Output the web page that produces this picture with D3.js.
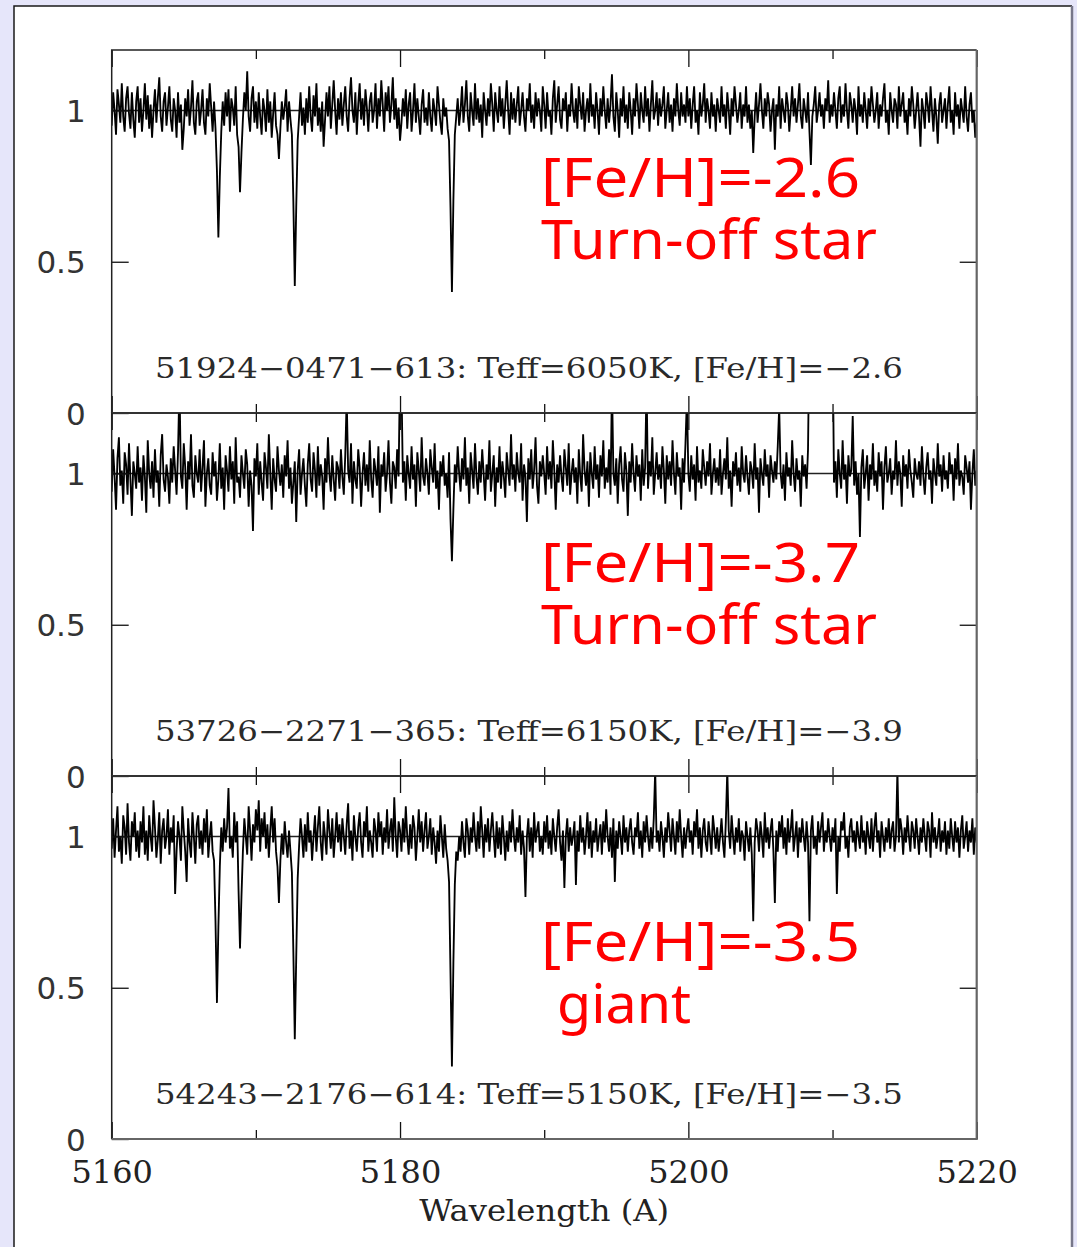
<!DOCTYPE html>
<html>
<head>
<meta charset="utf-8">
<script src="https://cdn.jsdelivr.net/npm/d3@7"></script>
<style>
	body{margin:0;background:#e6e6fa;}
	svg{display:block;}
</style>
</head>
<body>
<div id="spectraGraph_div"></div>
<script>

////////////////////////////////////////
// data : normalized flux in percent of continuum, 0.1 A steps from 5160 A
////////////////////////////////////////

var waveStart = 5160;
var waveStep = 0.1;

var flux1 = [
95,106,100,92,107,102,96,109,98,93,104,108,99,94,106,97,91,103,108,96,
104,93,100,109,97,105,94,102,91,100,107,96,104,111,98,93,103,106,95,101,
108,97,93,104,100,91,106,96,102,87,94,104,98,107,95,101,110,96,92,103,
106,95,100,107,96,92,104,98,109,101,93,103,94,80,58,78,93,103,95,106,
98,107,93,104,101,95,108,92,88,73,86,97,106,100,113,98,93,104,108,96,
103,94,106,98,92,104,100,93,107,96,103,91,99,106,95,92,84,94,103,97,
101,107,93,103,97,92,70,42,68,90,98,106,95,101,92,104,96,108,98,93,
105,98,109,95,101,93,103,88,97,106,98,108,94,102,110,100,92,104,97,106,
95,102,108,98,93,104,111,100,96,106,92,102,109,97,104,95,107,101,93,103,
106,96,100,109,94,104,98,110,102,93,106,100,108,96,102,111,97,104,94,101,
90,96,104,98,107,94,102,106,93,100,109,96,104,98,92,102,107,96,101,95,
106,98,93,104,100,95,108,102,96,92,104,98,101,94,90,68,40,70,92,98,
104,95,100,108,96,102,110,98,93,106,100,95,109,97,104,96,102,91,106,100,
95,104,98,109,102,93,106,100,96,108,98,104,94,102,110,100,92,106,97,104,
96,102,108,95,100,106,98,93,104,100,109,96,102,94,106,98,104,100,93,108,
102,94,106,98,100,92,104,110,96,102,108,97,94,104,100,106,93,102,98,109,
100,96,104,94,108,102,97,106,93,100,104,96,109,98,102,94,106,100,92,104,
98,108,100,94,104,96,102,112,98,93,106,100,91,104,98,108,96,102,94,106,
100,92,104,98,109,102,94,106,100,96,108,98,104,93,102,110,97,100,106,95,
104,98,102,108,94,100,106,96,102,93,104,98,109,100,95,106,98,102,96,108,
98,104,94,102,108,96,100,92,106,98,102,109,96,104,100,94,106,98,102,93,
104,100,96,108,98,102,94,106,100,92,104,98,108,102,96,100,106,94,102,98,
108,96,102,94,100,86,98,106,96,102,109,100,94,104,98,106,102,93,100,104,
87,102,98,108,94,104,100,96,106,102,93,100,108,98,104,96,102,109,98,94,
104,100,96,106,93,82,98,102,108,96,100,106,98,102,94,104,100,110,96,102,
98,106,100,94,104,108,96,102,98,109,100,94,106,102,96,104,100,92,108,98,
102,96,106,100,94,104,98,108,102,96,100,106,94,102,98,104,109,96,100,92,
106,100,96,104,102,94,108,98,102,106,96,100,92,104,98,108,102,94,100,106,
98,88,104,100,94,106,102,96,108,100,93,104,98,89,102,106,96,100,104,94,
102,108,96,100,92,106,98,102,94,104,100,96,108,98,93,102,106,96,100,91,
96];

var flux2 = [
94,108,99,88,105,112,96,101,90,107,103,93,110,98,86,104,100,95,109,97,
102,91,106,99,87,111,100,95,104,92,108,97,101,89,106,113,98,94,103,99,
90,105,97,109,101,93,107,130,99,95,110,102,88,104,98,113,96,92,106,100,
97,108,94,102,111,89,100,105,96,93,107,99,104,91,98,110,95,102,88,106,
101,94,109,98,104,90,112,97,99,92,106,100,95,108,103,89,101,96,81,105,
99,110,93,104,97,91,107,102,95,113,100,88,105,98,94,109,101,96,103,92,
106,99,111,95,102,90,97,104,84,101,108,93,100,105,96,89,103,110,98,94,
107,101,92,109,96,103,99,88,105,97,112,100,94,106,98,91,104,102,95,108,
99,93,106,125,101,97,110,90,104,98,95,108,102,89,100,107,96,103,94,111,
98,92,105,101,96,109,87,103,99,107,94,100,111,97,90,104,102,95,108,99,
135,130,97,104,91,106,100,95,109,98,103,89,107,101,94,112,99,96,105,100,
93,108,102,97,110,95,101,88,104,99,106,96,100,92,107,85,71,88,103,97,
109,100,94,105,98,112,96,102,90,107,101,95,110,99,93,104,97,108,100,91,
103,98,111,94,100,106,89,102,97,109,95,104,99,92,107,101,96,113,98,103,
94,107,100,97,110,91,103,99,84,105,98,108,95,101,112,96,90,104,99,106,
100,93,109,98,104,95,111,101,88,103,97,106,99,94,108,102,96,110,93,100,
105,97,102,90,108,99,94,113,101,96,104,89,107,100,95,109,98,103,92,106,
99,111,95,102,97,108,93,130,100,96,105,90,103,109,98,94,107,101,86,104,
97,110,100,94,106,99,103,91,108,96,102,130,95,104,99,112,93,100,107,98,
103,95,109,101,90,106,98,104,96,111,100,93,107,99,102,88,105,97,110,125,
100,94,106,98,103,91,109,97,101,95,108,102,96,104,99,110,93,100,105,97,
102,96,108,93,100,105,98,112,95,101,89,104,99,107,96,102,94,109,100,97,
106,99,93,104,101,95,110,98,102,87,105,100,96,108,99,103,92,106,101,97,
104,98,109,122,100,95,103,91,107,99,102,96,111,100,94,105,98,101,89,106,
99,103,95,108,150,150,150,150,150,150,150,150,150,150,150,150,150,150,150,150,
150,97,104,92,108,100,95,111,98,103,90,106,99,101,119,96,104,93,100,79,
102,108,95,100,106,91,103,98,110,96,101,94,107,99,104,88,102,109,97,100,
105,93,101,98,111,96,104,100,89,106,99,103,95,108,101,97,92,105,100,98,
104,96,109,99,93,102,107,98,101,90,105,100,96,110,99,103,94,106,98,101,
95,107,100,103,91,105,98,110,96,101,99,93,106,102,97,104,88,100,108,96,
101];

var flux3 = [
96,106,93,102,110,95,100,91,107,103,94,111,98,92,105,100,108,95,102,93,
105,98,110,94,102,92,107,100,95,112,103,93,99,108,91,102,106,96,100,109,
94,103,98,107,81,95,105,100,92,110,102,95,85,106,98,93,108,100,91,104,
107,96,102,94,106,98,109,93,100,105,95,92,72,45,70,90,103,95,106,98,
103,116,96,100,93,108,98,105,82,63,80,95,106,100,94,110,102,92,104,98,
109,102,112,95,106,100,108,96,104,93,102,110,98,106,95,90,78,92,101,94,
105,98,93,102,95,88,62,33,60,86,97,106,100,93,104,95,108,98,102,92,
100,107,95,103,110,98,92,105,100,94,109,102,96,106,93,100,108,98,104,95,
106,100,94,104,111,96,102,92,107,100,95,103,108,98,93,105,100,110,95,102,
98,93,106,102,95,108,100,105,94,103,98,109,96,102,106,95,113,100,93,105,
102,95,106,98,110,100,94,104,96,107,103,92,100,109,98,105,95,102,108,96,
100,106,94,103,98,91,102,95,107,100,93,104,96,92,85,55,24,58,84,95,
92,100,95,105,98,93,106,102,94,103,98,108,100,95,105,96,110,102,93,104,
98,106,95,102,108,100,93,105,96,103,94,107,100,92,102,95,105,98,109,100,
95,103,98,107,94,102,96,80,100,106,95,103,93,108,98,102,105,95,100,94,
105,98,107,96,102,94,106,100,95,103,109,98,92,102,83,100,106,95,103,97,
100,105,84,102,95,107,98,103,94,100,108,96,105,93,102,98,106,95,100,104,
94,105,98,109,100,95,103,93,106,85,102,96,105,100,94,107,98,103,95,102,
106,98,94,103,100,108,96,102,93,105,98,107,100,95,103,96,106,122,98,102,
95,105,100,93,103,98,108,102,95,106,100,94,105,98,109,100,93,103,96,102,
106,98,102,94,105,100,109,96,103,93,102,106,98,95,105,100,94,107,102,96,
103,95,100,106,98,93,105,122,102,96,107,100,94,103,98,106,95,102,100,92,
105,100,95,103,94,72,98,106,102,95,105,100,93,108,98,103,96,102,106,95,
78,102,95,105,100,107,96,103,94,106,98,102,109,95,100,105,93,103,98,106,
100,95,105,98,72,102,107,96,100,94,105,98,103,108,95,102,98,106,100,95,
103,98,106,81,100,95,105,102,108,96,100,93,103,106,98,102,95,105,100,96,
107,98,102,94,105,100,96,106,95,103,108,98,102,93,105,100,95,103,98,106,
96,102,105,95,100,122,98,106,102,94,103,98,107,100,95,105,102,96,106,100,
94,103,98,106,100,95,105,102,93,108,98,103,96,100,106,95,102,98,105,94,
102,96,106,100,95,105,98,103,93,102,107,96,100,105,95,102,98,106,94,103,
98];

var starIds = ['51924\u22120471\u2212613','53726\u22122271\u2212365','54243\u22122176\u2212614'];
var teffs = [6050,6150,5150];
var fehFits = ['\u22122.6','\u22123.9','\u22123.5'];
var fehNotes = ['[Fe/H]=-2.6','[Fe/H]=-3.7','[Fe/H]=-3.5'];
var typeNotes = ['Turn-off star','Turn-off star','giant'];

var xMajorTicks = [5160,5180,5200,5220];
var xMinorTicks = [5170,5190,5210];
var yTicks = [0,0.5,1];

////////////////////////////////////////
// layout
////////////////////////////////////////

var spectra_w = 1077;
var spectra_h = 1247;
var spectra_left = 111.7;
var spectra_right = 976.7;
var spectra_top = 50;
var panel_h = 363;
var fluxMax = 1.2;

var panels = [flux1,flux2,flux3];

var spectraSVG = d3.select('#spectraGraph_div').append('svg')
	.attr('width',spectra_w)
	.attr('height',spectra_h);

spectraSVG.append('rect')
	.attr('x',14).attr('y',6)
	.attr('width',1058).attr('height',1300)
	.attr('fill','white');
spectraSVG.append('path')
	.attr('d','M14,1247V6H1072')
	.attr('fill','none').attr('stroke','#1a1a1a').attr('stroke-width',1.5);
spectraSVG.append('line')
	.attr('x1',1072).attr('y1',6).attr('x2',1072).attr('y2',1247)
	.attr('stroke','#77778a').attr('stroke-width',2.5);

var x = d3.scaleLinear()
	.domain([waveStart,5220])
	.range([spectra_left,spectra_right]);

var spectraLine = d3.line()
	.x(function(d,i){ return x(waveStart+i*waveStep); });

////////////////////////////////////////
// panels
////////////////////////////////////////

panels.forEach(function(flux,p){
	var top = spectra_top+p*panel_h;
	var bottom = top+panel_h;

	var y = d3.scaleLinear()
		.domain([0,fluxMax])
		.range([bottom,top]);

	var g = spectraSVG.append('g').attr('id','panel'+p);

	g.append('clipPath')
		.attr('id','clip'+p)
		.append('rect')
		.attr('x',spectra_left)
		.attr('y',top)
		.attr('width',spectra_right-spectra_left)
		.attr('height',panel_h);

	// continuum level
	g.append('line')
		.attr('x1',spectra_left).attr('x2',spectra_right)
		.attr('y1',y(1)).attr('y2',y(1))
		.attr('stroke','#222')
		.attr('stroke-width',1.3);

	g.append('path')
		.datum(flux)
		.attr('clip-path','url(#clip'+p+')')
		.attr('fill','none')
		.attr('stroke','#000')
		.attr('stroke-width',1.85)
		.attr('stroke-linejoin','miter')
		.attr('d',spectraLine.y(function(d){ return y(d/100); }));

	// ticks pointing inward
	var axTopMajor = g.append('g')
		.attr('transform','translate(0,'+top+')')
		.call(d3.axisTop(x).tickValues(xMajorTicks).tickSize(-17).tickFormat(''));
	var axTopMinor = g.append('g')
		.attr('transform','translate(0,'+top+')')
		.call(d3.axisTop(x).tickValues(xMinorTicks).tickSize(-9).tickFormat(''));
	var axBotMajor = g.append('g')
		.attr('transform','translate(0,'+bottom+')')
		.call(d3.axisBottom(x).tickValues(xMajorTicks).tickSize(-17).tickPadding(21)
			.tickFormat(p==2 ? d3.format('d') : ''));
	var axBotMinor = g.append('g')
		.attr('transform','translate(0,'+bottom+')')
		.call(d3.axisBottom(x).tickValues(xMinorTicks).tickSize(-9).tickFormat(''));
	var axLeft = g.append('g')
		.attr('transform','translate('+spectra_left+',0)')
		.call(d3.axisLeft(y).tickValues(yTicks).tickSize(-17).tickPadding(26)
			.tickFormat(function(d){ return d; }));
	var axRight = g.append('g')
		.attr('transform','translate('+spectra_right+',0)')
		.call(d3.axisRight(y).tickValues([0.5]).tickSize(-17).tickFormat(''));

	[axTopMajor,axTopMinor,axBotMajor,axBotMinor,axLeft,axRight].forEach(function(a){
		a.select('.domain').remove();
		a.selectAll('.tick line').attr('stroke','#111').attr('stroke-width',1.3);
	});

	axLeft.selectAll('text')
		.attr('font-family','DejaVu Sans')
		.attr('font-size',31)
		.attr('fill','#333')
		.attr('dy','0.36em');

	axBotMajor.selectAll('text')
		.attr('font-family','DejaVu Serif')
		.attr('font-size',32)
		.attr('fill','#222');

	// frame: left/top dark, right/bottom grey
	g.append('path')
		.attr('d','M'+spectra_left+','+bottom+'V'+top+'H'+spectra_right)
		.attr('fill','none').attr('stroke','#222').attr('stroke-width',1.5);
	g.append('path')
		.attr('d','M'+spectra_left+','+bottom+'H'+spectra_right+'V'+top)
		.attr('fill','none').attr('stroke','#666').attr('stroke-width',2.2);

	// catalogue line
	g.append('text')
		.attr('x',x(5163))
		.attr('y',bottom-35)
		.attr('font-family','DejaVu Serif')
		.attr('font-size',28)
		.attr('fill','#2a2a2a')
		.attr('textLength',748)
		.attr('lengthAdjust','spacingAndGlyphs')
		.text(starIds[p]+': Teff='+teffs[p]+'K, [Fe/H]='+fehFits[p]);

	// red notes
	var noteY = [0.714,0.641,0.59][p];
	g.append('text')
		.attr('x',541)
		.attr('y',y(noteY))
		.attr('font-family','Noto Sans')
		.attr('font-size',55)
		.attr('fill','#ff0000')
		.attr('textLength',319)
		.attr('lengthAdjust','spacingAndGlyphs')
		.text(fehNotes[p]);
	g.append('text')
		.attr('x',p==2 ? 557 : 541)
		.attr('y',y(noteY)+62)
		.attr('font-family','Noto Sans')
		.attr('font-size',55)
		.attr('fill','#ff0000')
		.attr('textLength',p==2 ? 134 : 336)
		.attr('lengthAdjust','spacingAndGlyphs')
		.text(typeNotes[p]);
});

spectraSVG.append('text')
	.attr('x',x(5190))
	.attr('y',1221)
	.attr('text-anchor','middle')
	.attr('font-family','DejaVu Serif')
	.attr('font-size',30)
	.attr('fill','#222')
	.attr('textLength',250)
	.attr('lengthAdjust','spacingAndGlyphs')
	.text('Wavelength (A)');

</script>
</body>
</html>
